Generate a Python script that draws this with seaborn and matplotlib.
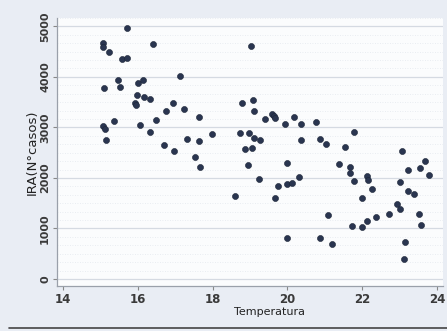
import matplotlib
matplotlib.use("Agg")
import matplotlib.pyplot as plt
from matplotlib.lines import Line2D
import numpy as np
import pandas as pd
import seaborn as sns

temperatura = [15.71, 15.08, 15.08, 15.22, 16.40, 15.57, 15.70, 15.48, 15.09, 15.53,
               16.01, 16.15, 17.12, 15.98, 16.17, 16.32, 15.93, 15.95, 16.94, 17.23,
               16.75, 17.63, 16.48, 15.36, 15.06, 15.12, 16.07, 16.33, 17.99, 15.15,
               17.32, 17.64, 16.69, 16.96, 17.54, 17.66, 19.02, 18.79, 19.07, 19.11,
               19.40, 19.60, 19.65, 19.68, 20.18, 19.94, 20.37, 20.77, 18.74, 18.98,
               19.12, 19.27, 20.37, 20.86, 21.02, 21.78, 21.53, 23.06, 18.88, 19.05,
               18.95, 20.00, 21.39, 21.67, 23.69, 23.55, 23.22, 21.67, 21.77, 22.13,
               22.16, 22.26, 22.00, 19.25, 19.76, 20.00, 20.11, 20.31, 18.61, 19.67,
               21.09, 21.73, 21.99, 22.12, 22.36, 22.72, 22.93, 23.02, 23.02, 23.79,
               23.22, 23.38, 23.53, 23.56, 23.14, 23.11, 19.99, 20.86, 21.18]
casos = [4964, 4667, 4587, 4489, 4647, 4350, 4376, 3940, 3788, 3802,
         3887, 3940, 4025, 3643, 3597, 3558, 3479, 3451, 3479, 3360,
         3320, 3214, 3142, 3122, 3023, 2970, 3043, 2911, 2877, 2758,
         2766, 2732, 2653, 2528, 2422, 2224, 4613, 3485, 3544, 3326,
         3168, 3267, 3227, 3194, 3208, 3069, 3069, 3109, 2897, 2897,
         2792, 2752, 2758, 2766, 2667, 2911, 2608, 2540, 2574, 2594,
         2263, 2297, 2277, 2218, 2336, 2192, 2158, 2093, 1940, 2045,
         1960, 1776, 1604, 1980, 1847, 1881, 1894, 2026, 1650, 1597,
         1267, 1056, 1030, 1149, 1234, 1294, 1491, 1386, 1921, 2059,
         1748, 1677, 1287, 1063, 733, 390, 806, 812, 693]
x_ticks = [14, 16, 18, 20, 22, 24]
y_ticks = [0, 1000, 2000, 3000, 4000, 5000]

df = pd.DataFrame({"Temperatura": temperatura, "IRA": casos})

sns.set_style("white")
fig = plt.figure(figsize=(4.47, 3.31), dpi=100)
fig.patch.set_facecolor("#e9edf4")
ax = fig.add_axes([0.1275, 0.136, 0.8635, 0.81])
ax.set_facecolor("#fbfcfd")

# minor dotted gridlines
for v in np.arange(0, 5200, 1000 / 6):
    ax.axhline(v, color="#e3e7ee", lw=0.6, ls=(0, (1, 2)), zorder=0)
for v in y_ticks:
    ax.axhline(v, color="#d5dae2", lw=0.9, zorder=0.5)

sns.scatterplot(data=df, x="Temperatura", y="IRA", ax=ax, color="#2a3550",
                s=19, edgecolor="#1b2436", linewidth=0.4, zorder=3, legend=False)

ax.set_xlim(13.84, 24.16)
ax.set_ylim(-139, 5168)
ax.set_xticks(x_ticks)
ax.set_yticks(y_ticks)
ax.set_xticklabels([str(t) for t in x_ticks], fontsize=8.5, fontweight="bold", color="#3a3a3a")
ax.set_yticklabels([str(t) for t in y_ticks], fontsize=8, fontweight="bold", color="#3a3a3a",
                   rotation=90, va="center")
ax.tick_params(axis="both", length=3, width=0.8, color="#888888", pad=2, direction="out")
ax.tick_params(axis="both", which="both", bottom=True, left=True)

ax.set_xlabel("Temperatura", fontsize=8, color="#222222", labelpad=0)
ax.xaxis.set_label_coords(0.55, -0.08)
ax.set_ylabel("IRA(N°casos)", fontsize=9.5, color="#222222", labelpad=1)

for side in ["top", "right"]:
    ax.spines[side].set_visible(False)
for side in ["left", "bottom"]:
    ax.spines[side].set_color("#9aa0aa")
    ax.spines[side].set_linewidth(0.9)

fig.add_artist(Line2D([0.02, 1.0], [0.01, 0.01], transform=fig.transFigure,
                      color="#444444", lw=1.2))

fig.savefig("out.png", dpi=100, facecolor=fig.get_facecolor())
